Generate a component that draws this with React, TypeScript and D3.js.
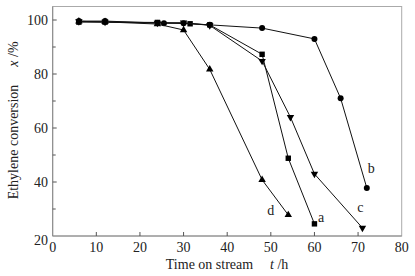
import React from "react";
import * as d3 from "d3";

const xTicks = [0, 10, 20, 30, 40, 50, 60, 70, 80];
const yTicks = [20, 40, 60, 80, 100];
const yMinor = [30, 50, 70, 90];

const aT = [6, 12, 24, 31.5, 36, 48, 54, 60];
const aV = [99.2, 99.2, 99.1, 98.6, 98.2, 87.3, 48.8, 24.5];
const bT = [6, 12, 25.5, 30, 36, 48, 60, 66, 72];
const bV = [99.6, 99.6, 98.8, 98.8, 98.2, 97, 93, 71, 37.8];
const cT = [6, 12, 24, 30, 36, 48, 54.5, 60, 71];
const cV = [99.5, 99.3, 98.9, 99, 98, 84.8, 64, 43, 23];
const dT = [6, 12, 24, 30, 36, 48, 54];
const dV = [99.5, 99.3, 98.5, 96.3, 81.7, 40.8, 27.8];

const series = [
  { name: "a", t: aT, v: aV, marker: "square", lab: [61.5, 27] },
  { name: "b", t: bT, v: bV, marker: "circle", lab: [73, 45] },
  { name: "c", t: cT, v: cV, marker: "down", lab: [70.5, 30.5] },
  { name: "d", t: dT, v: dV, marker: "up", lab: [50, 29.5] },
];

const x = d3.scaleLinear().domain([0, 80]).range([52.7, 401.7]);
const y = d3.scaleLinear().domain([20, 105]).range([236, 6.5]);

const ts: React.CSSProperties = { fontFamily: "'Liberation Serif', 'Times New Roman', Times, serif", fontSize: "14px" };

function Marker({ kind, cx, cy }: { kind: string; cx: number; cy: number }) {
  if (kind === "square") return <rect x={cx - 2.7} y={cy - 2.7} width={5.4} height={5.4} fill="#000" />;
  if (kind === "circle") return <circle cx={cx} cy={cy} r={3} fill="#000" />;
  const sym = d3.symbol().type(d3.symbolTriangle).size(24)();
  return <path d={sym || ""} transform={`translate(${cx},${cy}) rotate(${kind === "down" ? 180 : 0})`} fill="#000" />;
}

export default function App() {
  const line = d3.line<[number, number]>().x((d) => x(d[0])).y((d) => y(d[1]));
  return (
    <svg width={415} height={276} style={{ position: "absolute", left: 0, top: 0, background: "#fff" }}>
      <rect x={x(0)} y={y(105)} width={x(80) - x(0)} height={y(20) - y(105)} fill="none" stroke="#aaa" strokeWidth={1} />
      <line x1={x(0)} x2={x(0)} y1={y(105)} y2={y(20)} stroke="#888" />
      <line x1={x(0)} x2={x(80)} y1={y(20)} y2={y(20)} stroke="#888" />
      {xTicks.map((t) => (
        <g key={"x" + t}>
          {t > 0 && t < 80 && <line x1={x(t)} x2={x(t)} y1={y(20)} y2={y(20) - 4} stroke="#555" />}
          <text x={x(t)} y={252} textAnchor="middle" style={ts} fill="#222">{t}</text>
        </g>
      ))}
      {yTicks.map((v) => (
        <g key={"y" + v}>
          {v > 20 && <line x1={x(0)} x2={x(0) + 4} y1={y(v)} y2={y(v)} stroke="#555" />}
          <text x={48} y={y(v) + (v === 20 ? 9 : 5)} textAnchor="end" style={ts} fill="#222">{v}</text>
        </g>
      ))}
      {yMinor.map((v) => (
        <line key={"m" + v} x1={x(0)} x2={x(0) + 3} y1={y(v)} y2={y(v)} stroke="#555" />
      ))}
      {series.map((s) => {
        const pts = s.t.map((t, i) => [t, s.v[i]] as [number, number]);
        return (
          <g key={s.name}>
            <path d={line(pts) || ""} fill="none" stroke="#111" strokeWidth={1} />
            {pts.map((p, i) => (
              <Marker key={i} kind={s.marker} cx={x(p[0])} cy={y(p[1])} />
            ))}
            <text x={x(s.lab[0])} y={y(s.lab[1]) + 4.5} textAnchor="middle" style={ts} fill="#222">{s.name}</text>
          </g>
        );
      })}
      <text x={209.5} y={269} textAnchor="middle" style={ts} fill="#222">Time on stream</text>
      <text x={270} y={269} style={ts} fill="#222"><tspan fontStyle="italic">t</tspan> /h</text>
      <text transform="translate(18,142) rotate(-90)" textAnchor="middle" style={ts} fill="#222">Ethylene conversion</text>
      <text transform="translate(18,54) rotate(-90)" textAnchor="middle" style={ts} fill="#222"><tspan fontStyle="italic">x</tspan> /%</text>
    </svg>
  );
}
